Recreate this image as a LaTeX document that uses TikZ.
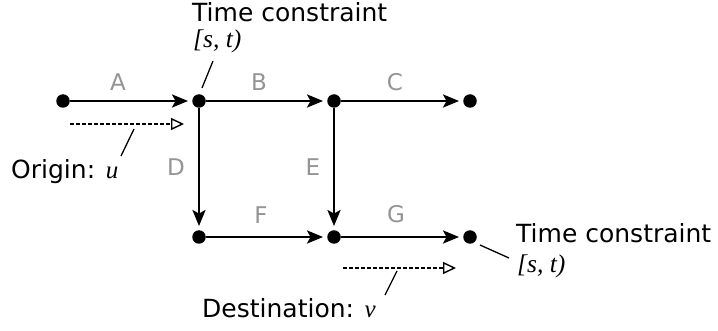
\documentclass[tikz,border=0pt]{standalone}
\usepackage{fontspec}
\setmainfont{DejaVu Sans}
\newfontfamily\ser{Liberation Serif}
\usetikzlibrary{arrows.meta}
\begin{document}
\begin{tikzpicture}[x=1pt,y=-1pt,
  dot/.style={circle,fill=black,inner sep=0pt,minimum size=13.5pt},
  edge/.style={line width=2.7pt,-{Stealth[length=16pt,width=13pt,inset=3.5pt]},shorten >=4pt},
  route/.style={line width=1.3pt,dash pattern=on 3.5pt off 2.5pt,-{Triangle[open,length=13pt,width=12pt,line width=1.4pt]}},
  lead/.style={line width=1.3pt},
  elab/.style={text=black!42,font=\fontsize{23}{27}\selectfont,inner sep=0pt},
  txt/.style={font=\fontsize{25}{30}\selectfont,inner sep=0pt,anchor=base west},
  stt/.style={font=\fontsize{25.5}{30}\selectfont\ser\itshape,inner sep=0pt,anchor=base west}]
\useasboundingbox (0,0) rectangle (718,331);
% nodes
\node[dot] (n1) at (63,101) {};
\node[dot] (n2) at (199,101) {};
\node[dot] (n3) at (334,101) {};
\node[dot] (n4) at (470,101) {};
\node[dot] (n5) at (199,237) {};
\node[dot] (n6) at (334,237) {};
\node[dot] (n7) at (470,237) {};
% edges
\draw[edge] (n1) -- (n2);
\draw[edge] (n2) -- (n3);
\draw[edge] (n3) -- (n4);
\draw[edge] (n2) -- (n5);
\draw[edge] (n3) -- (n6);
\draw[edge] (n5) -- (n6);
\draw[edge] (n6) -- (n7);
% edge labels
\node[elab] (la) at (118,82) {A};
\node[elab] (lb) at (259,82) {B};
\node[elab] (lc) at (395,82) {C};
\node[elab] (ld) at (176,167) {D};
\node[elab] (le) at (313,167) {E};
\node[elab] (lf) at (261,215) {F};
\node[elab] (lg) at (396,214) {G};
% routes
\coordinate (o1) at (70,124);
\coordinate (o2) at (184,124);
\draw[route] (o1) -- (o2);
\coordinate (d1) at (343,268);
\coordinate (d2) at (456,268);
\draw[route] (d1) -- (d2);
% texts
\node[txt] (tc1) at (192,22) {Time constraint};
\node[stt] (st1) at (193,48) {[s, t)};
\coordinate (l1a) at (213,61);
\coordinate (l1b) at (202,88);
\draw[lead] (l1a) -- (l1b);
\node[txt] (tc2) at (516,243) {Time constraint};
\node[stt] (st2) at (517,273) {[s, t)};
\coordinate (l2a) at (480,245);
\coordinate (l2b) at (509,258);
\draw[lead] (l2a) -- (l2b);
\node[txt] (org) at (11,179) {Origin: {\ser\itshape u}};
\coordinate (l3a) at (134,129);
\coordinate (l3b) at (121,156);
\draw[lead] (l3a) -- (l3b);
\node[txt] (dst) at (202,317) {Destination: {\ser\itshape v}};
\coordinate (l4a) at (397,271);
\coordinate (l4b) at (385,295);
\draw[lead] (l4a) -- (l4b);
\end{tikzpicture}
\end{document}
